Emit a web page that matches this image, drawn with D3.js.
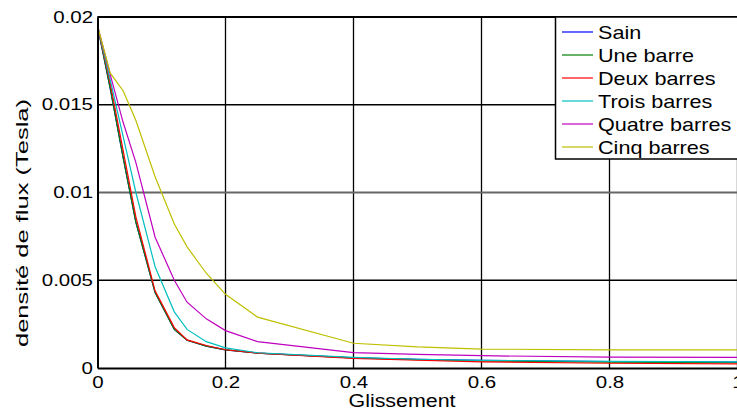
<!DOCTYPE html>
<html>
<head>
<meta charset="utf-8">
<script src="https://cdn.jsdelivr.net/npm/d3@7"></script>
<style>
  body { margin: 0; background: #fff; }
  svg { display: block; font-family: "Liberation Sans", Arial, sans-serif; }
</style>
</head>
<body>
<svg id="chart" width="737" height="411"></svg>
<script>
// slip values (glissement)
const slip = [0, 0.02, 0.04, 0.06, 0.09, 0.12, 0.14, 0.17, 0.2, 0.25, 0.4, 0.5, 0.6, 0.8, 1];

// flux density per case (Tesla)
const sain         = [0.0195, 0.0159, 0.0120, 0.0083, 0.0043, 0.0022, 0.00158, 0.00125, 0.00103, 0.00085, 0.00058, 0.0005, 0.00043, 0.00037, 0.00034];
const uneBarre     = [0.0195, 0.0159, 0.0120, 0.0083, 0.0043, 0.0022, 0.00158, 0.00125, 0.00103, 0.00085, 0.00058, 0.00048, 0.0004, 0.00033, 0.0003];
const deuxBarres   = [0.0195, 0.0162, 0.0124, 0.0086, 0.0044, 0.0023, 0.0016, 0.00128, 0.00104, 0.00085, 0.00055, 0.00045, 0.00035, 0.00027, 0.00023];
const troisBarres  = [0.0195, 0.0164, 0.0132, 0.0100, 0.00577, 0.0032, 0.0022, 0.0015, 0.00115, 0.00087, 0.0006, 0.0005, 0.00044, 0.00038, 0.00035];
const quatreBarres = [0.0195, 0.0167, 0.0140, 0.0117, 0.00745, 0.0050, 0.00375, 0.0028, 0.00213, 0.0015, 0.00088, 0.00078, 0.0007, 0.00062, 0.0006];
const cinqBarres   = [0.0195, 0.0168, 0.0158, 0.0141, 0.0109, 0.0082, 0.0069, 0.0054, 0.0042, 0.0029, 0.00141, 0.0012, 0.00108, 0.00103, 0.00103];

const seriesNames = ["Sain", "Une barre", "Deux barres", "Trois barres", "Quatre barres", "Cinq barres"];
const seriesValues = [sain, uneBarre, deuxBarres, troisBarres, quatreBarres, cinqBarres];
const seriesColors = ["#0000ff", "#008000", "#ff0000", "#00bfbf", "#bf00bf", "#bfbf00"];

const xTicks = [0, 0.2, 0.4, 0.6, 0.8, 1];
const yTicks = [0, 0.005, 0.01, 0.015, 0.02];

const svg = d3.select("#chart");
const plotLeft = 97.5, plotRight = 737.5, plotTop = 17, plotBottom = 368;
const sx = 1.28; // text in the source looks stretched horizontally

const x = d3.scaleLinear().domain([0, 1]).range([plotLeft, plotRight]);
const y = d3.scaleLinear().domain([0, 0.02]).range([plotBottom, plotTop]);

// grid
svg.append("g")
  .selectAll("line")
  .data(xTicks.slice(1))
  .join("line")
  .attr("x1", d => x(d)).attr("x2", d => x(d))
  .attr("y1", plotTop).attr("y2", plotBottom)
  .attr("stroke", "#000").attr("stroke-width", 1.3);

svg.append("g")
  .selectAll("line")
  .data(yTicks.slice(1))
  .join("line")
  .attr("x1", plotLeft).attr("x2", plotRight)
  .attr("y1", d => y(d)).attr("y2", d => y(d))
  .attr("stroke", d => d === 0.01 ? "#666" : "#000")
  .attr("stroke-width", d => d === 0.01 ? 2 : 1.3);

// curves
const line = d3.line()
  .x((d, i) => x(slip[i]))
  .y(d => y(d));

svg.append("g")
  .selectAll("path")
  .data(seriesValues)
  .join("path")
  .attr("d", line)
  .attr("fill", "none")
  .attr("stroke", (d, i) => seriesColors[i])
  .attr("stroke-width", 1.2);

// axes
const xAxis = svg.append("g")
  .attr("transform", `translate(0,${plotBottom})`)
  .call(d3.axisBottom(x).tickValues(xTicks).tickFormat(d => String(d)).tickSize(0).tickPadding(8.5));

const yAxis = svg.append("g")
  .attr("transform", `translate(${plotLeft},0)`)
  .call(d3.axisLeft(y).tickValues(yTicks).tickFormat(d => String(d)).tickSize(0).tickPadding(4.5));

[xAxis, yAxis].forEach(g => {
  g.select(".domain").attr("stroke", "#000").attr("stroke-width", 2);
  g.selectAll("text")
    .attr("font-size", 16)
    .attr("font-family", "Liberation Sans, Arial, sans-serif")
    .attr("fill", "#000");
});
xAxis.selectAll("text").attr("transform", `scale(${sx},1)`);
yAxis.selectAll("text")
  .attr("x", -4.5 / sx)
  .attr("transform", `scale(${sx},1)`);

// top frame
svg.append("line")
  .attr("x1", plotLeft).attr("x2", plotRight)
  .attr("y1", plotTop).attr("y2", plotTop)
  .attr("stroke", "#000").attr("stroke-width", 2);

// axis titles
svg.append("text")
  .attr("transform", `translate(402,406.5) scale(1.19,1)`)
  .attr("text-anchor", "middle")
  .attr("font-size", 18)
  .text("Glissement");

svg.append("text")
  .attr("transform", "translate(28,223) rotate(-90)")
  .attr("text-anchor", "middle")
  .attr("font-size", 17)
  .attr("textLength", 248)
  .attr("lengthAdjust", "spacingAndGlyphs")
  .text("densité de flux (Tesla)");

// legend
const legend = svg.append("g");
legend.append("rect")
  .attr("x", 555.5).attr("y", 17)
  .attr("width", 200).attr("height", 142)
  .attr("fill", "#fff")
  .attr("stroke", "#000").attr("stroke-width", 1.5);

const rows = legend.selectAll("g.row")
  .data(seriesNames)
  .join("g")
  .attr("class", "row")
  .attr("transform", (d, i) => `translate(0,${32 + i * 23})`);

rows.append("line")
  .attr("x1", 562).attr("x2", 593)
  .attr("stroke", (d, i) => seriesColors[i])
  .attr("stroke-width", 1.2);

rows.append("text")
  .attr("transform", `translate(598,6.5) scale(1.2,1)`)
  .attr("font-size", 18)
  .text(d => d);
</script>
</body>
</html>
